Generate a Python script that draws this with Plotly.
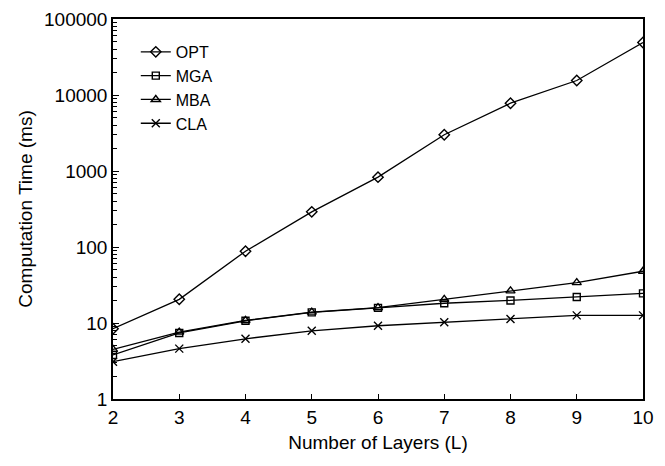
import plotly.graph_objects as go

layers = [2, 3, 4, 5, 6, 7, 8, 9, 10]
opt = [8.4, 20.5, 88, 290, 830, 3000, 7800, 15500, 49000]
mga = [3.8, 7.4, 10.7, 13.8, 15.8, 18.2, 19.8, 22, 24.5]
mba = [4.5, 7.6, 10.8, 13.9, 15.9, 20.5, 26.5, 34, 48]
cla = [3.1, 4.6, 6.2, 7.9, 9.2, 10.2, 11.3, 12.6, 12.6]
y_ticks = [1, 10, 100, 1000, 10000, 100000]
y_ticktext = ["1", "10", "100", "1000", "10000", "100000"]

series = [
    ("OPT", opt, "diamond-open", 8),
    ("MGA", mga, "square-open", 7),
    ("MBA", mba, "triangle-up-open", 8),
    ("CLA", cla, "x-thin-open", 8),
]

fig = go.Figure()
for name, vals, sym, sz in series:
    fig.add_trace(go.Scatter(
        x=layers, y=vals, name=name, mode="lines+markers",
        line=dict(color="black", width=1.3),
        marker=dict(symbol=sym, size=sz, color="black",
                    line=dict(color="black", width=1.4)),
    ))

font = "Liberation Sans, Arial, sans-serif"
fig.update_layout(
    width=665, height=466,
    margin=dict(l=105, r=30, t=11, b=75),
    paper_bgcolor="white", plot_bgcolor="white",
    font=dict(family=font, size=19, color="black"),
    showlegend=True,
    legend=dict(x=0.043, y=0.958, xanchor="left", yanchor="top",
                bgcolor="rgba(0,0,0,0)", font=dict(size=16),
                tracegroupgap=0, itemsizing="trace"),
    xaxis=dict(
        title=dict(text="Number of Layers (L)", font=dict(size=19), standoff=9),
        range=[2, 10], tickvals=layers, ticks="inside", ticklen=5,
        tickcolor="black", showline=True, linecolor="black", linewidth=1.5,
        mirror=True, showgrid=False, zeroline=False, automargin=False,
    ),
    yaxis=dict(
        title=dict(text="Computation Time (ms)", font=dict(size=19), standoff=6),
        type="log", range=[0, 5], tickvals=y_ticks, ticktext=y_ticktext,
        ticks="inside", ticklen=6, tickcolor="black",
        minor=dict(ticks="inside", ticklen=4, tickcolor="black", dtick="D1", showgrid=False),
        showline=True, linecolor="black", linewidth=1.5, mirror=True,
        showgrid=False, zeroline=False, automargin=False,
    ),
)

fig.write_html("out.html")
